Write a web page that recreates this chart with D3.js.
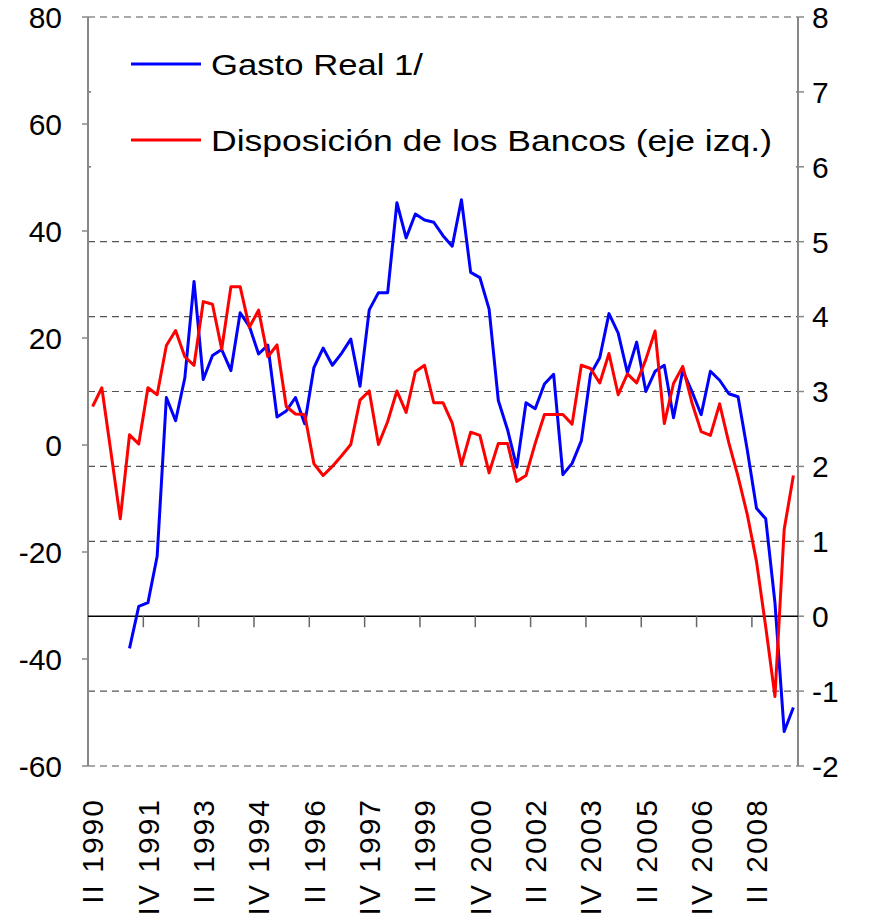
<!DOCTYPE html>
<html>
<head>
<meta charset="utf-8">
<script src="https://cdn.jsdelivr.net/npm/d3@7"></script>
<style>
  body { margin: 0; background: #fff; }
  text { font-family: "Liberation Sans", Arial, sans-serif; fill: #000; }
</style>
</head>
<body>
<svg id="chart" width="871" height="914"></svg>
<script>
// quarters II 1990 .. II 2009
const quarterNames = ["I", "II", "III", "IV"];
const quarters = [];
for (let yr = 1990; yr <= 2009; yr++) {
  quarterNames.forEach(function(q, k) {
    if ((yr === 1990 && k < 1) || (yr === 2009 && k > 1)) return;
    quarters.push(q + " " + yr);
  });
}

// Disposicion de los Bancos (eje izq.)
const bancos = [7.2, 10.7, -1.5, -13.8, 1.9, 0.2, 10.7, 9.4, 18.6, 21.4,
  16.5, 14.9, 26.8, 26.3, 17.9, 29.6, 29.6, 22.0, 25.2, 16.5,
  18.7, 7.2, 5.8, 5.7, -3.5, -5.7, -4.0, -2.0, 0.1, 8.4,
  10.1, 0.1, 4.4, 10.1, 6.1, 13.7, 14.9, 7.9, 7.9, 4.1,
  -3.7, 2.4, 1.8, -5.2, 0.3, 0.3, -6.8, -5.7, 0.3, 5.7,
  5.7, 5.7, 3.9, 14.9, 14.3, 11.6, 17.1, 9.4, 13.3, 11.6,
  16.0, 21.3, 4.0, 11.5, 14.7, 7.9, 2.5, 1.8, 7.7, 0.4,
  -5.9, -13.0, -21.8, -34.0, -47.0, -15.8, -5.7];

// Gasto Real 1/ (eje der.)
const gasto = [null, null, null, null, -0.43, 0.13, 0.18, 0.80, 2.92, 2.61,
  3.18, 4.47, 3.16, 3.48, 3.56, 3.28, 4.05, 3.87, 3.50, 3.62,
  2.66, 2.74, 2.92, 2.57, 3.32, 3.58, 3.35, 3.51, 3.70, 3.07,
  4.09, 4.32, 4.32, 5.52, 5.05, 5.37, 5.29, 5.26, 5.08, 4.94,
  5.56, 4.59, 4.52, 4.10, 2.88, 2.49, 1.99, 2.85, 2.77, 3.10,
  3.23, 1.89, 2.04, 2.34, 3.23, 3.45, 4.04, 3.78, 3.25, 3.66,
  3.00, 3.27, 3.35, 2.65, 3.28, 3.00, 2.69, 3.27, 3.15, 2.97,
  2.93, 2.22, 1.44, 1.30, 0.18, -1.54, -1.22];

const leftTicks = [80, 60, 40, 20, 0, -20, -40, -60];
const rightTicks = [8, 7, 6, 5, 4, 3, 2, 1, 0, -1, -2];
const labelEvery = 6;

const svg = d3.select("#chart");
const plotLeft = 88, plotRight = 798, plotTop = 17, plotBottom = 766;

const x = d3.scaleBand().domain(d3.range(quarters.length)).range([plotLeft, plotRight]).padding(0);
const yL = d3.scaleLinear().domain([-60, 80]).range([plotBottom, plotTop]);
const yR = d3.scaleLinear().domain([-2, 8]).range([plotBottom, plotTop]);

// gridlines (right axis)
svg.append("g").selectAll("line")
  .data(rightTicks.filter(d => d !== 0))
  .enter().append("line")
  .attr("x1", plotLeft).attr("x2", plotRight)
  .attr("y1", d => yR(d)).attr("y2", d => yR(d))
  .attr("stroke", "#555").attr("stroke-width", 1.2)
  .attr("stroke-dasharray", "7,5");

// legend background hides the upper gridlines
svg.append("rect")
  .attr("x", plotLeft + 3).attr("y", 24)
  .attr("width", plotRight - plotLeft - 6).attr("height", 170)
  .attr("fill", "#fff");

// axis lines
svg.append("line").attr("x1", plotLeft).attr("x2", plotLeft).attr("y1", plotTop).attr("y2", plotBottom)
  .attr("stroke", "#888").attr("stroke-width", 2);
svg.append("line").attr("x1", plotRight).attr("x2", plotRight).attr("y1", plotTop).attr("y2", plotBottom)
  .attr("stroke", "#888").attr("stroke-width", 2);

// left ticks + labels
const gl = svg.append("g");
gl.selectAll("line").data(leftTicks).enter().append("line")
  .attr("x1", plotLeft - 6).attr("x2", plotLeft)
  .attr("y1", d => yL(d)).attr("y2", d => yL(d))
  .attr("stroke", "#888").attr("stroke-width", 1.5);
gl.selectAll("text").data(leftTicks).enter().append("text")
  .attr("x", 62).attr("y", d => yL(d)).attr("dy", "0.36em")
  .attr("text-anchor", "end").attr("font-size", 30)
  .text(d => d);

// right ticks + labels
const gr = svg.append("g");
gr.selectAll("line").data(rightTicks).enter().append("line")
  .attr("x1", plotRight).attr("x2", plotRight + 6)
  .attr("y1", d => yR(d)).attr("y2", d => yR(d))
  .attr("stroke", "#888").attr("stroke-width", 1.5);
gr.selectAll("text").data(rightTicks).enter().append("text")
  .attr("x", 812).attr("y", d => yR(d)).attr("dy", "0.36em")
  .attr("text-anchor", "start").attr("font-size", 30)
  .text(d => d);

// category axis at right-axis zero
const y0 = yR(0);
svg.append("line").attr("x1", plotLeft).attr("x2", plotRight).attr("y1", y0).attr("y2", y0)
  .attr("stroke", "#000").attr("stroke-width", 1.5);
const tickIdx = d3.range(labelEvery, quarters.length, labelEvery);
svg.append("g").selectAll("line").data(tickIdx).enter().append("line")
  .attr("x1", d => x(d)).attr("x2", d => x(d))
  .attr("y1", y0).attr("y2", y0 + 11)
  .attr("stroke", "#666").attr("stroke-width", 1.5);

// category labels
const labIdx = d3.range(0, quarters.length, labelEvery);
svg.append("g").selectAll("text").data(labIdx).enter().append("text")
  .attr("transform", d => "translate(" + (x(d) + x.bandwidth() / 2) + ",798) rotate(-90)")
  .attr("dy", "0.36em")
  .attr("text-anchor", "end").attr("font-size", 30)
  .attr("letter-spacing", 2)
  .text(d => quarters[d]);

// series
const lineL = d3.line()
  .x((d, i) => x(i) + x.bandwidth() / 2)
  .y(d => yL(d));
const lineR = d3.line()
  .defined(d => d !== null)
  .x((d, i) => x(i) + x.bandwidth() / 2)
  .y(d => yR(d));

svg.append("path").datum(gasto).attr("d", lineR)
  .attr("fill", "none").attr("stroke", "#0000ff").attr("stroke-width", 3)
  .attr("stroke-linejoin", "round");
svg.append("path").datum(bancos).attr("d", lineL)
  .attr("fill", "none").attr("stroke", "#ff0000").attr("stroke-width", 3)
  .attr("stroke-linejoin", "round");

// legend
const legendItems = [
  { name: "Gasto Real 1/", color: "#0000ff", y: 64, len: 212 },
  { name: "Disposición de los Bancos (eje izq.)", color: "#ff0000", y: 140, len: 561 }
];
const lg = svg.append("g").selectAll("g").data(legendItems).enter().append("g");
lg.append("line")
  .attr("x1", 131).attr("x2", 201)
  .attr("y1", d => d.y).attr("y2", d => d.y)
  .attr("stroke", d => d.color).attr("stroke-width", 3);
lg.append("text")
  .attr("x", 211).attr("y", d => d.y).attr("dy", "0.36em")
  .attr("font-size", 30)
  .attr("textLength", d => d.len).attr("lengthAdjust", "spacingAndGlyphs")
  .text(d => d.name);
</script>
</body>
</html>
